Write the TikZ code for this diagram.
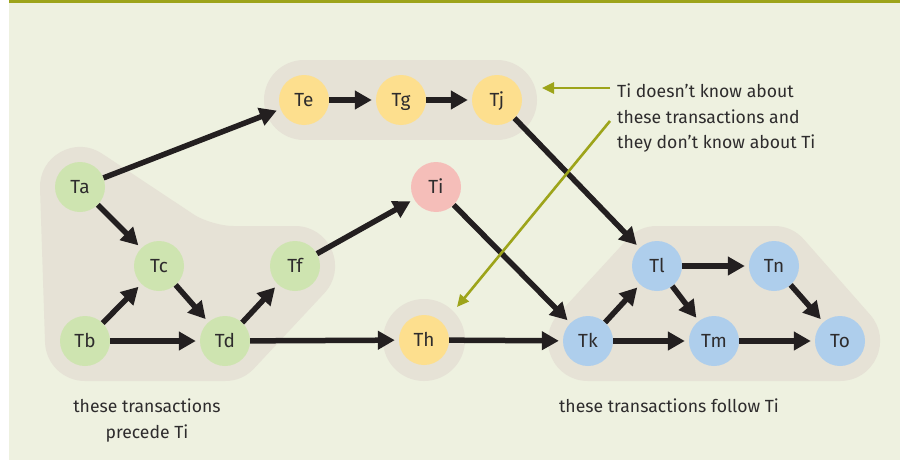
\documentclass[tikz,border=0pt]{standalone}
\usepackage{fontspec}
\setmainfont{Fira Sans}
\usetikzlibrary{arrows.meta}

\definecolor{panel}{HTML}{EEF1E0}
\definecolor{olive}{HTML}{9DA41A}
\definecolor{groupbg}{HTML}{E6E2D6}
\definecolor{txgreen}{HTML}{CEE4B0}
\definecolor{txyellow}{HTML}{FDDF8E}
\definecolor{txpink}{HTML}{F5BEB9}
\definecolor{txblue}{HTML}{AECEEC}
\definecolor{ink}{HTML}{231F20}
\definecolor{label}{HTML}{2E2C2D}

\begin{document}
\begin{tikzpicture}[x=1pt, y=-1pt,
		tx/.style={circle, minimum size=50pt, inner sep=0pt, text=label, text height=13pt, text depth=0pt, font=\fontsize{19}{21}\selectfont},
		dep/.style={draw=ink, line width=5.5pt, -{Triangle[length=17pt,width=18pt]}, shorten >=4pt},
		note/.style={draw=olive, line width=2.6pt, -{Triangle[length=12pt,width=11pt]}},
		grp/.style={fill=groupbg, draw=groupbg, line width=80pt, line join=round, line cap=round},
		caption/.style={inner sep=0pt, text=label, font=\fontsize{17.6}{25.5}\selectfont}]
		\useasboundingbox ( 0, 0 ) rectangle ( 901, 460 );

		% фон
		\fill [panel] ( 9, 0 ) rectangle ( 900, 460 );
		\fill [olive] ( 9, 0 ) rectangle ( 900, 3 );

		% группы транзакций
		\filldraw [grp] ( 80, 187 ) -- ( 172, 248 ) .. controls ( 187, 258 ) and ( 213, 266 ) .. ( 233, 266 ) -- ( 295, 266 ) -- ( 225, 341 ) -- ( 85, 341 ) -- cycle;
		\draw [grp] ( 304, 100 ) -- ( 497, 100 );
		\fill [groupbg] ( 424, 340 ) circle [radius=41];
		\filldraw [grp] ( 588, 341 ) -- ( 657, 266 ) -- ( 774, 266 ) -- ( 840, 341 ) -- cycle;

		% транзакции
		\node [tx, fill=txgreen] (Ta) at ( 80, 187 ) {Ta};
		\node [tx, fill=txgreen] (Tb) at ( 85, 341 ) {Tb};
		\node [tx, fill=txgreen] (Tc) at ( 159, 266 ) {Tc};
		\node [tx, fill=txgreen] (Td) at ( 225, 341 ) {Td};
		\node [tx, fill=txgreen] (Tf) at ( 295, 266 ) {Tf};
		\node [tx, fill=txyellow] (Te) at ( 304, 100 ) {Te};
		\node [tx, fill=txyellow] (Tg) at ( 401, 100 ) {Tg};
		\node [tx, fill=txyellow] (Tj) at ( 497, 100 ) {Tj};
		\node [tx, fill=txpink] (Ti) at ( 436, 187 ) {Ti};
		\node [tx, fill=txyellow] (Th) at ( 424, 340 ) {Th};
		\node [tx, fill=txblue] (Tk) at ( 588, 341 ) {Tk};
		\node [tx, fill=txblue] (Tl) at ( 657, 266 ) {Tl};
		\node [tx, fill=txblue] (Tn) at ( 774, 266 ) {Tn};
		\node [tx, fill=txblue] (Tm) at ( 714, 341 ) {Tm};
		\node [tx, fill=txblue] (To) at ( 840, 341 ) {To};

		% зависимости
		\draw [dep] (Ta) -- (Te);
		\draw [dep] (Ta) -- (Tc);
		\draw [dep] (Tb) -- (Tc);
		\draw [dep] (Tb) -- (Td);
		\draw [dep] (Tc) -- (Td);
		\draw [dep] (Td) -- (Tf);
		\draw [dep] (Tf) -- (Ti);
		\draw [dep] (Td) -- (Th);
		\draw [dep] (Te) -- (Tg);
		\draw [dep] (Tg) -- (Tj);
		\draw [dep] (Tj) -- (Tl);
		\draw [dep] (Ti) -- (Tk);
		\draw [dep] (Th) -- (Tk);
		\draw [dep] (Tk) -- (Tl);
		\draw [dep] (Tk) -- (Tm);
		\draw [dep] (Tl) -- (Tn);
		\draw [dep] (Tl) -- (Tm);
		\draw [dep] (Tn) -- (To);
		\draw [dep] (Tm) -- (To);

		% пояснение
		\node [caption, anchor=north west, align=left] (remark) at ( 617, 84 ) {Ti doesn't know about\\these transactions and\\they don't know about Ti};
		\coordinate (fromj) at ( 610, 88 );
		\coordinate (toj) at ( 542, 88 );
		\coordinate (fromh) at ( 610, 121 );
		\coordinate (toh) at ( 457, 307 );
		\draw [note] (fromj) -- (toj);
		\draw [note] (fromh) -- (toh);

		% подписи
		\node [caption, anchor=north, align=center] (precede) at ( 147, 399 ) {these transactions\\precede Ti};
		\node [caption, anchor=north] (follow) at ( 669, 399 ) {these transactions follow Ti};
	\end{tikzpicture}
\end{document}
